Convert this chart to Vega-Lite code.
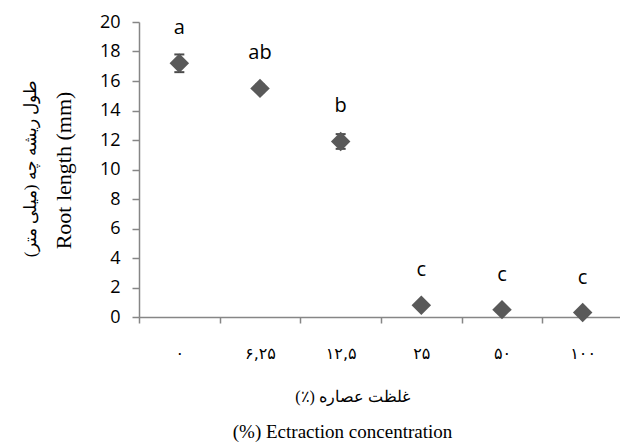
{
  "$schema": "https://vega.github.io/schema/vega-lite/v6.json",
  "width": 484,
  "height": 295,
  "autosize": {"type": "none"},
  "padding": {"left": 139, "top": 22, "right": 0, "bottom": 129},
  "background": "white",
  "config": {"view": {"stroke": null}},
  "data": {"values": [
    {"conc": "۰", "mean": 17.2, "lo": 16.6, "hi": 17.8, "letter": "a"},
    {"conc": "۶,۲۵", "mean": 15.5, "lo": 15.25, "hi": 15.75, "letter": "ab"},
    {"conc": "۱۲,۵", "mean": 11.9, "lo": 11.4, "hi": 12.4, "letter": "b"},
    {"conc": "۲۵", "mean": 0.8, "lo": 0.72, "hi": 0.88, "letter": "c"},
    {"conc": "۵۰", "mean": 0.5, "lo": 0.45, "hi": 0.55, "letter": "c"},
    {"conc": "۱۰۰", "mean": 0.3, "lo": 0.26, "hi": 0.34, "letter": "c"}
  ]},
  "resolve": {"axis": {"x": "independent", "y": "independent"}},
  "layer": [
    {
      "mark": {"type": "rule", "color": "black", "strokeWidth": 2},
      "encoding": {
        "x": {
          "field": "conc", "type": "nominal", "sort": null,
          "scale": {"paddingInner": 0, "paddingOuter": 0},
          "axis": {
            "orient": "bottom",
            "title": "\u200fغلظت عصاره (٪)\u200f",
            "titleFont": "Liberation Serif", "titleFontSize": 16, "titleFontWeight": "normal",
            "titleColor": "black",
            "titleX": 213, "titleY": 84, "titleAlign": "center", "titleBaseline": "alphabetic",
            "labelAngle": 0, "labelFont": "DejaVu Sans", "labelFontSize": 16, "labelColor": "black",
            "labelPadding": 22,
            "tickBand": "extent", "tickSize": 6, "tickColor": "#868686", "domainColor": "#868686",
            "tickWidth": 1.5, "domainWidth": 1.5
          }
        },
        "y": {"field": "lo", "type": "quantitative",
          "scale": {"domain": [0, 20], "nice": false},
          "axis": {
            "orient": "left",
            "title": "\u200fطول ریشه چه (میلی متر)\u200f",
            "titleFont": "Liberation Serif", "titleFontSize": 17, "titleFontWeight": "normal",
            "titleColor": "black",
            "titleX": -104, "titleY": 146, "titleAngle": -90, "titleAlign": "center", "titleBaseline": "alphabetic",
            "values": [0, 2, 4, 6, 8, 10, 12, 14, 16, 18, 20],
            "labelOverlap": false,
            "labelFont": "Open Sans", "labelFontSize": 18, "labelColor": "black", "labelPadding": 12,
            "grid": false, "tickSize": 7, "tickColor": "#868686", "domainColor": "#868686",
            "tickWidth": 1.5, "domainWidth": 1.5
          }
        },
        "y2": {"field": "hi"}
      }
    },
    {
      "mark": {"type": "tick", "color": "black", "size": 10, "thickness": 2, "orient": "horizontal"},
      "encoding": {
        "x": {"field": "conc", "type": "nominal", "sort": null, "axis": null},
        "y": {"field": "lo", "type": "quantitative", "axis": null}
      }
    },
    {
      "mark": {"type": "tick", "color": "black", "size": 10, "thickness": 2, "orient": "horizontal"},
      "encoding": {
        "x": {"field": "conc", "type": "nominal", "sort": null, "axis": null},
        "y": {"field": "hi", "type": "quantitative", "axis": null}
      }
    },
    {
      "mark": {"type": "point", "shape": "diamond", "size": 380, "filled": true, "color": "#595959", "opacity": 1},
      "encoding": {
        "x": {"field": "conc", "type": "nominal", "sort": null,
          "axis": {
            "orient": "bottom", "title": "(%) Ectraction concentration",
            "titleFont": "Liberation Serif", "titleFontSize": 19, "titleFontWeight": "normal", "titleColor": "black",
            "titleX": 203, "titleY": 120, "titleAlign": "center", "titleBaseline": "alphabetic",
            "labels": false, "ticks": false, "domain": false, "grid": false
          }
        },
        "y": {"field": "mean", "type": "quantitative",
          "axis": {
            "orient": "left",
            "title": "Root  length (mm)",
            "titleFont": "Liberation Serif", "titleFontSize": 22, "titleFontWeight": "normal", "titleColor": "black",
            "titleX": -69, "titleY": 148, "titleAngle": -90, "titleAlign": "center", "titleBaseline": "alphabetic",
            "labels": false, "ticks": false, "domain": false, "grid": false
          }
        }
      }
    },
    {
      "mark": {"type": "text", "font": "Open Sans", "fontSize": 20, "color": "black", "dy": -35, "baseline": "middle"},
      "encoding": {
        "x": {"field": "conc", "type": "nominal", "sort": null, "axis": null},
        "y": {"field": "mean", "type": "quantitative", "axis": null},
        "text": {"field": "letter"}
      }
    }
  ]
}
